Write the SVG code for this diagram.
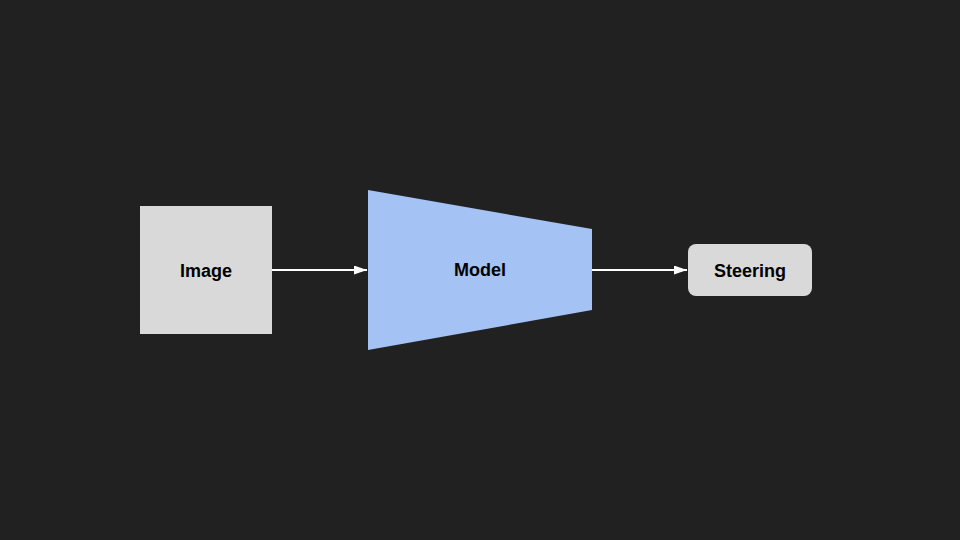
<svg xmlns="http://www.w3.org/2000/svg" width="960" height="540" viewBox="0 0 960 540">
<defs>
<style>
.lbl{font-family:"Liberation Sans",Arial,sans-serif;font-weight:bold;font-size:18px;fill:#000;text-anchor:middle;dominant-baseline:central}
.box{fill:#d9d9d9}
.conn{stroke:#fff;stroke-width:2;fill:none}
</style>
<marker id="ah" markerWidth="13" markerHeight="9" refX="13" refY="4.5" orient="auto" markerUnits="userSpaceOnUse" viewBox="0 0 13 9">
<path d="M0,0 L13,4.5 L0,9 Z" fill="#fff"/>
</marker>
</defs>
<rect width="960" height="540" fill="#212121"/>
<g id="connectors">
<line class="conn" x1="272" y1="270" x2="367" y2="270" marker-end="url(#ah)"/>
<line class="conn" x1="592" y1="270" x2="687" y2="270" marker-end="url(#ah)"/>
</g>
<g id="image">
<rect class="box" x="140" y="206" width="132" height="128"/>
<text class="lbl" x="206" y="271">Image</text>
</g>
<g id="model">
<polygon points="368,190 592,229 592,310 368,350" fill="#a4c2f4"/>
<text class="lbl" x="480" y="270">Model</text>
</g>
<g id="steering">
<rect class="box" x="688" y="244" width="124" height="52" rx="8"/>
<text class="lbl" x="750" y="271">Steering</text>
</g>
</svg>
